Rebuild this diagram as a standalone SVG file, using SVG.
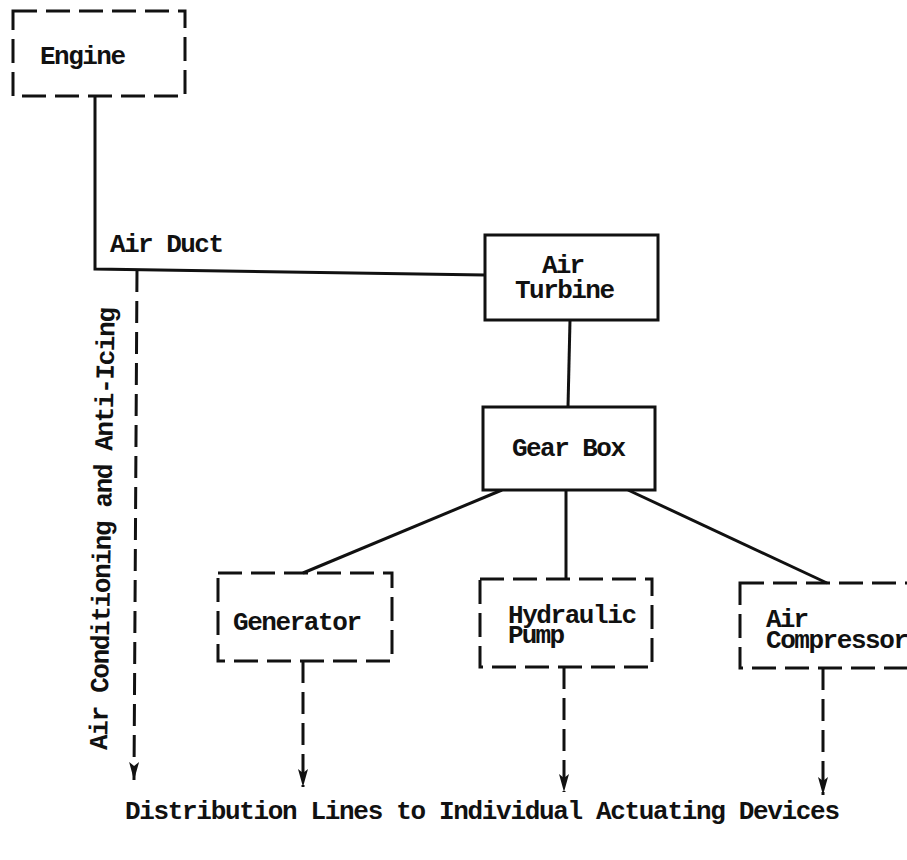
<svg xmlns="http://www.w3.org/2000/svg" width="907" height="860" viewBox="0 0 907 860">
<style>
.t{font-family:"Liberation Mono","Courier New",monospace;font-weight:bold;font-size:26px;fill:#111}
.solid{fill:#fff;stroke:#111;stroke-width:3}
.dbox{fill:none;stroke:#111;stroke-width:3;stroke-dasharray:24 9}
.ln{fill:none;stroke:#111;stroke-width:3}
.dl{fill:none;stroke:#111;stroke-width:3;stroke-dasharray:22 9}
</style>
<defs>
<marker id="ah" markerUnits="userSpaceOnUse" markerWidth="20" markerHeight="12" refX="18" refY="6" orient="auto">
<path d="M0,1 L18,6 L0,11 L4,6 Z" fill="#111"/>
</marker>
</defs>
<rect width="907" height="860" fill="#fff"/>
<g id="connectors">
<polyline class="ln" points="95,96 95,269 485,275"/>
<line class="ln" x1="570" y1="320" x2="568" y2="407"/>
<line class="ln" x1="502" y1="490" x2="303" y2="573"/>
<line class="ln" x1="566" y1="490" x2="566" y2="579"/>
<line class="ln" x1="628" y1="490" x2="827" y2="583"/>
<line class="dl" x1="137" y1="270" x2="134" y2="780" marker-end="url(#ah)"/>
<line class="dl" x1="303" y1="661" x2="303" y2="787" marker-end="url(#ah)"/>
<line class="dl" x1="564" y1="667" x2="564" y2="792" marker-end="url(#ah)"/>
<line class="dl" x1="823" y1="668" x2="823" y2="795" marker-end="url(#ah)"/>
</g>
<g id="engine">
<rect class="dbox" x="13" y="11" width="172" height="85"/>
<text class="t" x="40" y="64" textLength="86" lengthAdjust="spacing">Engine</text>
</g>
<text class="t" x="110" y="252" textLength="114" lengthAdjust="spacing">Air Duct</text>
<g id="air-turbine">
<rect class="solid" x="485" y="235" width="173" height="85"/>
<text class="t" x="542" y="273" textLength="43" lengthAdjust="spacing">Air</text>
<text class="t" x="515" y="298" textLength="100" lengthAdjust="spacing">Turbine</text>
</g>
<g id="gear-box">
<rect class="solid" x="483" y="407" width="172" height="83"/>
<text class="t" x="512" y="456" textLength="114" lengthAdjust="spacing">Gear Box</text>
</g>
<g id="generator">
<rect class="dbox" x="218" y="573" width="174" height="88"/>
<text class="t" x="233" y="630" textLength="129" lengthAdjust="spacing">Generator</text>
</g>
<g id="hydraulic-pump">
<rect class="dbox" x="480" y="579" width="172" height="88"/>
<text class="t" x="508" y="623" textLength="129" lengthAdjust="spacing">Hydraulic</text>
<text class="t" x="508" y="643" textLength="57" lengthAdjust="spacing">Pump</text>
</g>
<g id="air-compressor">
<rect class="dbox" x="740" y="583" width="190" height="85"/>
<text class="t" x="766" y="627" textLength="43" lengthAdjust="spacing">Air</text>
<text class="t" x="766" y="648" textLength="143" lengthAdjust="spacing">Compressor</text>
</g>
<text class="t" transform="translate(107,750) rotate(-89)" textLength="443" lengthAdjust="spacing">Air Conditioning and Anti-Icing</text>
<text class="t" x="125" y="819" textLength="715" lengthAdjust="spacing">Distribution Lines to Individual Actuating Devices</text>
</svg>
